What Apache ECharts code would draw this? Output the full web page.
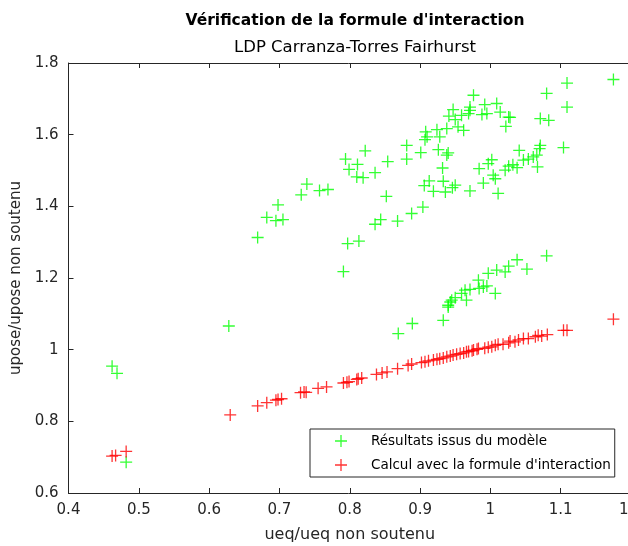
<!DOCTYPE html>
<html>
<head>
<meta charset="utf-8">
<script src="https://cdn.jsdelivr.net/npm/echarts@6/dist/echarts.min.js"></script>
<style>html,body{margin:0;padding:0;background:#fff}#c{width:628px;height:546px}</style>
</head>
<body>
<div id="c"></div>
<script>
const titleText = "Vérification de la formule d'interaction";
const subtitleText = "LDP Carranza-Torres Fairhurst";
const xName = "ueq/ueq non soutenu";
const yName = "upose/upose non soutenu";
const seriesNames = ["Résultats issus du modèle", "Calcul avec la formule d'interaction"];

const modelX = [0.462,0.469,0.482,0.628,
0.669,0.682,0.695,0.705,0.698,0.731,0.739,0.757,0.769,0.794,0.799,0.810,0.811,0.797,0.813,0.791,
0.819,0.822,0.836,0.854,0.881,0.881,0.901,0.908,0.907,0.910,0.924,0.928,0.926,0.938,0.940,0.938,0.941,0.947,0.950,0.954,0.962,0.959,0.971,0.971,0.976,0.969,0.988,0.992,0.995,1.009,1.014,1.022,1.026,1.028,1.071,1.080,1.083,1.109,1.109,1.175,
0.852,0.836,0.844,0.868,0.888,0.904,0.906,0.913,0.919,0.932,0.933,0.936,0.946,0.950,0.971,0.984,0.990,0.997,1.002,1.004,1.007,1.011,1.021,1.026,1.032,1.038,1.041,1.047,1.054,1.061,1.066,1.067,1.070,1.071,1.104,
0.869,0.889,0.933,0.940,0.943,0.940,0.945,0.950,0.959,0.964,0.966,0.971,0.983,0.984,0.990,0.995,0.997,1.007,1.009,1.021,1.026,1.038,1.052,1.080];
const modelY = [0.954,0.934,0.686,1.066,
1.313,1.369,1.360,1.363,1.404,1.432,1.462,1.444,1.447,1.532,1.503,1.482,1.517,1.296,1.303,1.218,
1.480,1.555,1.494,1.525,1.570,1.532,1.550,1.608,1.586,1.594,1.614,1.594,1.558,1.543,1.549,1.617,1.652,1.670,1.642,1.622,1.612,1.654,1.677,1.668,1.710,1.659,1.656,1.684,1.659,1.687,1.663,1.623,1.649,1.648,1.645,1.715,1.640,1.744,1.677,1.754,
1.428,1.350,1.363,1.359,1.380,1.398,1.458,1.471,1.442,1.507,1.470,1.440,1.452,1.459,1.443,1.505,1.465,1.519,1.530,1.487,1.477,1.436,1.501,1.512,1.516,1.508,1.556,1.529,1.532,1.538,1.543,1.510,1.561,1.570,1.564,
1.045,1.073,1.082,1.119,1.133,1.124,1.138,1.145,1.157,1.166,1.138,1.168,1.194,1.171,1.175,1.178,1.213,1.157,1.222,1.217,1.233,1.251,1.225,1.262];

const calcX = [0.462,0.467,0.482,0.630,0.669,0.682,0.695,0.698,0.703,0.730,0.735,0.738,0.755,0.767,0.791,0.796,0.799,0.810,0.812,0.817,0.838,0.846,0.853,0.868,0.883,0.888,0.902,0.907,0.912,0.919,0.924,0.928,0.933,0.938,0.943,0.947,0.952,0.957,0.962,0.966,0.969,0.974,0.976,0.981,0.983,0.992,0.997,1.002,1.007,1.011,1.018,1.026,1.028,1.035,1.040,1.047,1.054,1.064,1.068,1.073,1.081,1.104,1.109,1.175];
const calcY = [0.703,0.705,0.716,0.818,0.843,0.852,0.859,0.861,0.863,0.880,0.882,0.881,0.892,0.896,0.907,0.909,0.911,0.917,0.919,0.921,0.931,0.935,0.938,0.947,0.956,0.960,0.964,0.966,0.969,0.971,0.973,0.975,0.977,0.980,0.982,0.985,0.987,0.989,0.991,0.994,0.995,0.997,0.999,1.001,1.003,1.004,1.007,1.008,1.012,1.015,1.015,1.019,1.024,1.022,1.027,1.031,1.031,1.036,1.040,1.038,1.042,1.054,1.054,1.085];

const xTicks = {min: 0.4, max: 1.2, step: 0.1};
const yTicks = {min: 0.6, max: 1.8, step: 0.2};

const plus = 'path://M5.35,0H6.65V5.35H12V6.65H6.65V12H5.35V6.65H0V5.35H5.35Z';
const axisCol = '#262626';
const FONT = 'DejaVu Sans';

function zip(xs, ys){ return xs.map((x,i)=>[x, ys[i]]); }

const chart = echarts.init(document.getElementById('c'), null, {renderer:'canvas'});
chart.setOption({
  animation: false,
  backgroundColor: '#fff',
  textStyle: {fontFamily: FONT},
  title: {
    text: titleText, subtext: subtitleText,
    left: 350, top: 8, textAlign: 'center', itemGap: 10,
    textStyle: {fontFamily: FONT, fontSize: 15.5, fontWeight: 'bold', color: '#000'},
    subtextStyle: {fontFamily: FONT, fontSize: 16.5, color: '#000'}
  },
  grid: {left: 68.5, right: -3, top: 63, bottom: 53, containLabel: false, outerBoundsMode: 'none'},
  legend: {
    orient: 'vertical', left: 310, top: 429,
    padding: [5, 4, 5, 25],
    itemWidth: 12, itemHeight: 12, itemGap: 10,
    borderColor: axisCol, borderWidth: 1, backgroundColor: '#fff',
    textStyle: {fontFamily: FONT, fontSize: 13.5, color: '#000', padding: [0,0,0,19]},
    data: [{name: seriesNames[0], icon: plus}, {name: seriesNames[1], icon: plus}]
  },
  xAxis: [{
    type: 'value', min: xTicks.min, max: xTicks.max, interval: xTicks.step,
    name: xName, nameLocation: 'middle', nameGap: 34,
    nameTextStyle: {fontFamily: FONT, fontSize: 16, color: axisCol},
    axisLine: {show: true, lineStyle: {color: axisCol, width: 1}},
    axisTick: {show: true, inside: true, length: 5, lineStyle: {color: axisCol}},
    axisLabel: {fontFamily: FONT, fontSize: 15, color: axisCol, margin: 10, showMaxLabel: true},
    splitLine: {show: false}
  },{
    type: 'value', position: 'top', min: xTicks.min, max: xTicks.max, interval: xTicks.step,
    axisLine: {show: true, lineStyle: {color: axisCol, width: 1}},
    axisTick: {show: true, inside: true, length: 5, lineStyle: {color: axisCol}},
    axisLabel: {show: false}, splitLine: {show: false}
  }],
  yAxis: [{
    type: 'value', min: yTicks.min, max: yTicks.max, interval: yTicks.step,
    name: yName, nameLocation: 'middle', nameGap: 40,
    nameTextStyle: {fontFamily: FONT, fontSize: 15, color: axisCol},
    axisLine: {show: true, lineStyle: {color: axisCol, width: 1}},
    axisTick: {show: true, inside: true, length: 5, lineStyle: {color: axisCol}},
    axisLabel: {fontFamily: FONT, fontSize: 15, color: axisCol, margin: 10},
    splitLine: {show: false}
  }],
  series: [{
    name: seriesNames[0], type: 'scatter', symbol: plus, symbolSize: 12,
    itemStyle: {color: '#00ff00'}, data: zip(modelX, modelY), z: 2
  },{
    name: seriesNames[1], type: 'scatter', symbol: plus, symbolSize: 12,
    itemStyle: {color: '#ff0000'}, data: zip(calcX, calcY), z: 3
  }]
});
</script>
</body>
</html>
